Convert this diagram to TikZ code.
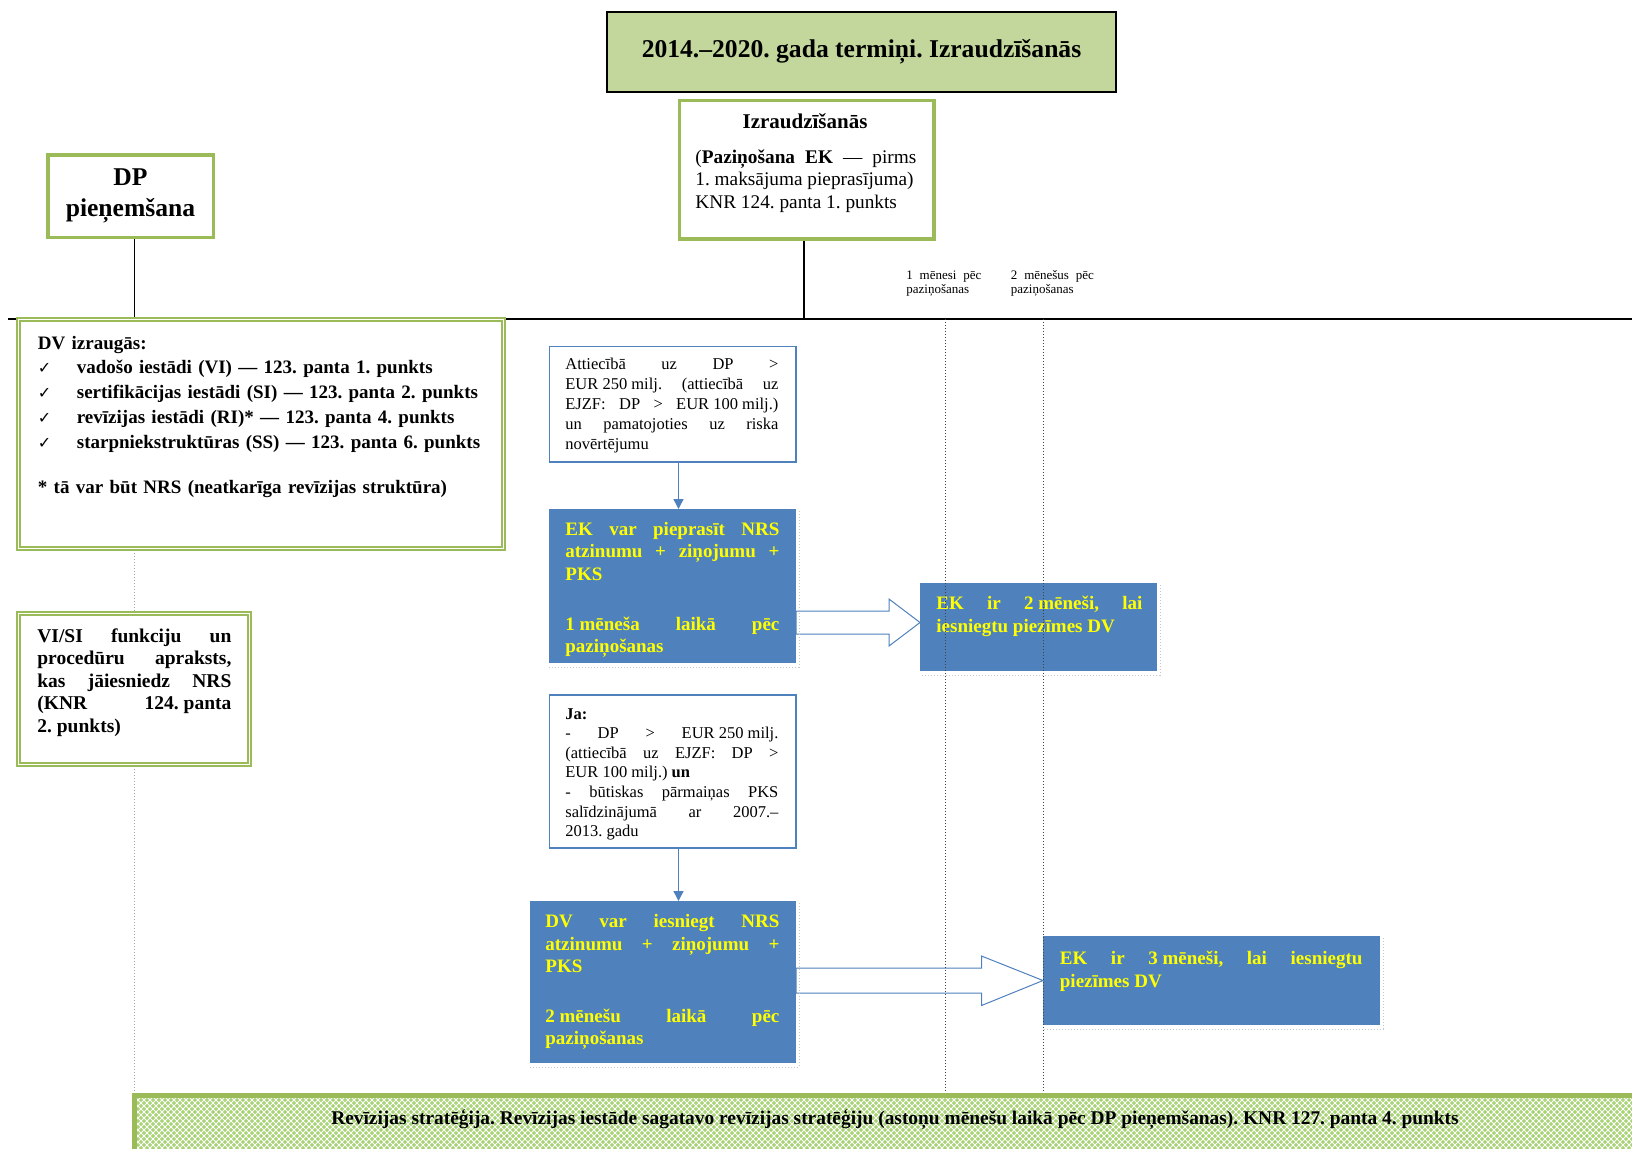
\documentclass[tikz,border=0pt]{standalone}
\usepackage{fontspec}
\setmainfont{Liberation Serif}
\newfontfamily\symfont{DejaVu Sans}
\usetikzlibrary{arrows.meta,patterns,calc}

\definecolor{olivegreen}{RGB}{155,187,89}
\definecolor{titlegreen}{RGB}{195,214,155}
\definecolor{officeblue}{RGB}{79,129,189}
\definecolor{bandgreen}{RGB}{168,212,118}
\definecolor{textyellow}{RGB}{255,255,0}

\lefthyphenmin=62 \righthyphenmin=62
\tolerance=10000 \hbadness=10000
\frenchspacing

\newcommand{\fs}[2]{\fontsize{#1pt}{#2pt}\selectfont}
\newcommand{\fsp}{\hspace{0.25em}}
\newcommand{\chk}{\makebox[19.5pt][l]{\symfont\fontsize{8}{8}\selectfont ✓}}

\tikzset{
  greenbox/.style={draw=olivegreen, line width=1.75pt, fill=white, anchor=north west, inner sep=0pt},
  dblbox/.style={draw=olivegreen, double=white, line width=0.8pt, double distance=0.8pt, fill=white, anchor=north west, inner sep=0pt},
  bluebox/.style={draw=officeblue, line width=0.75pt, fill=white, anchor=north west, inner sep=0pt},
  bluefill/.style={draw=officeblue, line width=0.5pt, fill=officeblue, anchor=north west, inner sep=0pt},
  bodytext/.style={anchor=base west, inner sep=0pt, align=justify},
  yellowtext/.style={bodytext, text=textyellow, font=\bfseries\fs{9.5}{11.25}},
  bandbox/.style={fill=bandgreen, anchor=north west, inner sep=0pt,
    postaction={pattern=north east lines, pattern color=white},
    postaction={pattern=north west lines, pattern color=white}},
  conn/.style={line width=0.8pt},
  guide/.style={black!75, line width=0.35pt, dash pattern=on 0.6pt off 0.9pt},
  softguide/.style={gray!70, line width=0.35pt, dash pattern=on 0.6pt off 0.9pt},
  shadowline/.style={gray!45, line width=0.4pt, dash pattern=on 0.6pt off 0.9pt},
  bluearrow/.style={draw=officeblue, line width=0.75pt, -{Triangle[width=5pt,length=5pt]}},
  blockarrow/.style={draw=officeblue, line width=0.5pt, fill=white},
}

\begin{document}
\begin{tikzpicture}[x=0.5pt,y=-0.5pt]
\useasboundingbox (0,0) rectangle (1632,1148);

% time line
\coordinate (tlstart) at (8,319);
\coordinate (tlend) at (1632,319);
\draw[softguide] (134.5,319) -- (134.5,1095);
\draw[line width=1pt] (tlstart) -- (tlend);

% title
\node[draw=black, line width=1pt, fill=titlegreen, minimum width=254.5pt, minimum height=40pt,
  font=\bfseries\fs{12.8}{15}] (title) at (861.5,52) {2014.–2020. gada termiņi. Izraudzīšanās};

% DP
\node[greenbox, anchor=center, minimum width=82.75pt, minimum height=41.25pt, align=center,
  font=\bfseries\fs{12.8}{15.5}] (dpbox) at (130.5,196) {DP\\pieņemšana};
\coordinate (dpfoot) at ([xshift=2pt]dpbox.south);
\draw[conn] (dpfoot) -- (dpfoot |- tlstart);

% Izraudzisanas
\node[greenbox, minimum width=127.25pt, minimum height=69.25pt] (izbox) at (677.75,98.75) {};
\node[anchor=base, inner sep=0pt, font=\bfseries\fs{10.5}{12}] (iztitle) at (805,128) {Izraudzīšanās};
\node[bodytext, text width=110.5pt, font=\fs{9.65}{11.25}] (iztext) at (695,163)
  {(\textbf{Paziņošana EK} — pirms\linebreak 1.\fsp maksājuma pieprasījuma)\newline KNR 124. panta 1. punkts};
\coordinate (izfoot) at ([xshift=-1.25pt]izbox.south);
\draw[conn] (izfoot) -- (izfoot |- tlstart);

% DV
\node[dblbox, minimum width=242.5pt, minimum height=114.5pt] (dvbox) at (17.5,318.5) {};
\node[anchor=base west, inner sep=0pt, text width=235pt, align=left, font=\bfseries\fs{9.5}{12.4}] (dvtext) at (37.5,349)
  {DV izraugās:\\
   \chk vadošo iestādi (VI) — 123. panta 1. punkts\\
   \chk sertifikācijas iestādi (SI) — 123. panta 2. punkts\\
   \chk revīzijas iestādi (RI)* — 123. panta 4. punkts\\
   \chk starpniekstruktūras (SS) — 123. panta 6. punkts\\[10pt]
   * tā var būt NRS (neatkarīga revīzijas struktūra)};

% VI/SI
\node[dblbox, minimum width=115.5pt, minimum height=75.5pt] (vibox) at (17.5,612.5) {};
\node[bodytext, text width=97pt, font=\bfseries\fs{9.75}{11.2}] (vitext) at (37,642.5)
  {VI/SI funkciju un\linebreak procedūru apraksts,\linebreak kas jāiesniedz NRS\linebreak (KNR 124.\fsp panta\linebreak 2.\fsp punkts)};

% first branch
\node[bluebox, minimum width=123.25pt, minimum height=57.75pt] (boxA) at (548.5,345.5) {};
\node[bodytext, text width=106.5pt, font=\fs{8.25}{10}] (textA) at (565,369)
  {Attiecībā uz DP >\linebreak EUR\fsp 250\fsp milj. (attiecībā uz\linebreak EJZF: DP > EUR\fsp 100\fsp milj.)\linebreak un pamatojoties uz riska\linebreak novērtējumu};

\node[bluefill, minimum width=123.25pt, minimum height=76.5pt] (boxB) at (548.5,509) {};
\node[yellowtext, text width=107pt] (textB) at (565,535)
  {EK var pieprasīt NRS\linebreak atzinumu + ziņojumu +\linebreak PKS\par\vspace{13.75pt}\noindent 1\fsp mēneša laikā pēc\linebreak paziņošanas};

\node[bluefill, minimum width=118pt, minimum height=43.5pt] (boxC) at (920,583) {};
\node[yellowtext, text width=103pt, font=\bfseries\fs{9.5}{11.5}] (textC) at (936,609.5)
  {EK ir 2\fsp mēneši, lai\linebreak iesniegtu piezīmes DV};

\coordinate (afoot) at ([xshift=3pt]boxA.south);
\draw[bluearrow] (afoot) -- (afoot |- boxB.north);
\draw[blockarrow] (boxB.east |- 0,611) -- (889,611) -- (889,599) -- (boxC.west |- 0,622.5)
  -- (889,646) -- (889,634) -- (boxB.east |- 0,634) -- cycle;

% second branch
\node[bluebox, minimum width=123.25pt, minimum height=76.5pt] (boxD) at (548.5,694) {};
\node[bodytext, text width=106.5pt, font=\fs{8.25}{9.8}] (textD) at (565,719)
  {\textbf{Ja:}\newline - DP > EUR\fsp 250\fsp milj.\linebreak (attiecībā uz EJZF: DP >\linebreak EUR\fsp 100\fsp milj.) \textbf{un}\newline - būtiskas pārmaiņas PKS\linebreak salīdzinājumā ar 2007.–\linebreak 2013.\fsp gadu};

\node[bluefill, minimum width=132.5pt, minimum height=80.5pt] (boxE) at (530,901) {};
\node[yellowtext, text width=117pt] (textE) at (545,927.5)
  {DV var iesniegt NRS\linebreak atzinumu + ziņojumu +\linebreak PKS\par\vspace{13.5pt}\noindent 2\fsp mēnešu laikā pēc\linebreak paziņošanas};

\node[bluefill, minimum width=168pt, minimum height=44pt] (boxF) at (1043,936) {};
\node[yellowtext, text width=151.25pt, font=\bfseries\fs{9.5}{11.5}] (textF) at (1059.5,964)
  {EK ir 3\fsp mēneši, lai iesniegtu\linebreak piezīmes DV};

\coordinate (dfoot) at ([xshift=3pt]boxD.south);
\draw[bluearrow] (dfoot) -- (dfoot |- boxE.north);
\draw[blockarrow] (boxE.east |- 0,968) -- (981.5,968) -- (981.5,956) -- (boxF.west |- 0,980.5)
  -- (981.5,1005.5) -- (981.5,993) -- (boxE.east |- 0,993) -- cycle;

\foreach \b in {boxB,boxC,boxE,boxF}
  \draw[shadowline] ($(\b.north east)+(3,2)$) -- ($(\b.south east)+(3,4)$) -- ($(\b.south west)+(0,4)$);

% month marks
\node[bodytext, text width=37.5pt, font=\fs{6.5}{7}] (lab1) at (906,279) {1 mēnesi pēc\linebreak paziņošanas};
\node[bodytext, text width=41.5pt, font=\fs{6.5}{7}] (lab2) at (1010.5,279) {2 mēnešus pēc\linebreak paziņošanas};
\draw[guide] (945,319) -- (945,1093);
\draw[guide] (1043,319) -- (1043,1093);

% audit strategy band
\begin{scope}
\clip (0,0) rectangle (1632,1148);
\node[bandbox, minimum width=753pt, minimum height=30pt] (band) at (134,1095.5) {};
\draw[olivegreen, line width=2.5pt] (band.north east) -- (band.north west) -- (band.south west);
\end{scope}
\node[font=\bfseries\fs{9.7}{11}] (bandtext) at (895,1120)
  {Revīzijas stratēģija. Revīzijas iestāde sagatavo revīzijas stratēģiju (astoņu mēnešu laikā pēc DP pieņemšanas). KNR 127. panta 4. punkts};

\end{tikzpicture}
\end{document}
